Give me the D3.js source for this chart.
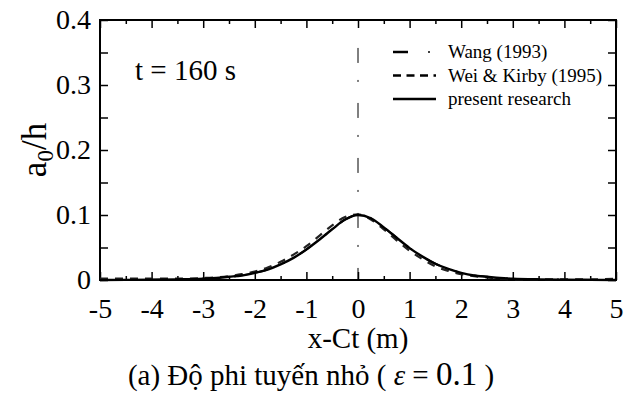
<!DOCTYPE html>
<html>
<head>
<meta charset="utf-8">
<script src="https://cdn.jsdelivr.net/npm/d3@7"></script>
<style>
  body { margin: 0; background: #fff; }
</style>
</head>
<body>
<div id="graph_field"></div>
<script>
// values
const xValues = [-5, -4.5, -4, -3.5, -3, -2.75, -2.5, -2.25, -2, -1.75, -1.5, -1.25, -1, -0.75, -0.5, -0.25, 0,
                 0.25, 0.5, 0.75, 1, 1.25, 1.5, 1.75, 2, 2.25, 2.5, 2.75, 3, 3.5, 4, 4.5, 5];
const presentValues = [0, 0.0002, 0.0005, 0.001, 0.002, 0.003, 0.005, 0.007, 0.011, 0.016, 0.024, 0.034, 0.047, 0.062, 0.078, 0.093, 0.100,
                       0.095, 0.081, 0.065, 0.049, 0.036, 0.025, 0.017, 0.011, 0.007, 0.005, 0.003, 0.002, 0.001, 0.0005, 0.0002, 0];
const weiKirbyValues = [0.002, 0.002, 0.002, 0.002, 0.003, 0.004, 0.006, 0.009, 0.013, 0.019, 0.028, 0.039, 0.052, 0.068, 0.084, 0.097, 0.101,
                        0.093, 0.078, 0.061, 0.045, 0.032, 0.021, 0.014, 0.009, 0.006, 0.004, 0.002, 0.001, 0.001, 0.001, 0.001, 0.002];
const wangValues = [0, 0.0002, 0.0005, 0.001, 0.002, 0.003, 0.005, 0.007, 0.011, 0.016, 0.024, 0.034, 0.047, 0.062, 0.078, 0.093, 0.100,
                    0.095, 0.081, 0.065, 0.049, 0.036, 0.025, 0.017, 0.011, 0.007, 0.005, 0.003, 0.002, 0.001, 0.0005, 0.0002, 0];
const crestLine = [0, 0.357]; // dash-dot line through the crest
const xTicks = [-5, -4, -3, -2, -1, 0, 1, 2, 3, 4, 5];
const yTicks = [0, 0.1, 0.2, 0.3, 0.4];
const legendLabels = ["Wang (1993)", "Wei & Kirby (1995)", "present research"];

const SERIF = '"Liberation Serif", "DejaVu Serif", serif';

const margin = {top: 20, right: 20, bottom: 116, left: 100};
const width = 636 - margin.left - margin.right;
const height = 396 - margin.top - margin.bottom;

const svg = d3.select("#graph_field")
    .append("svg")
    .attr("width", 636)
    .attr("height", 396);

const g = svg.append("g")
    .attr("transform", "translate(" + margin.left + "," + margin.top + ")");

const x = d3.scaleLinear().domain([-5, 5]).range([0, width]);
const y = d3.scaleLinear().domain([0, 0.4]).range([height, 0]);

const xMinor = d3.range(-4.5, 5, 1);
const yMinor = [0.05, 0.15, 0.25, 0.35];

// ticks on all four sides, pointing inward
function ticks(axis, scale, vals, len, labels) {
    return axis(scale).tickValues(vals).tickSizeInner(-len).tickSizeOuter(0)
        .tickFormat(labels ? (d => d) : "");
}

const bottom = g.append("g").attr("transform", "translate(0," + height + ")")
    .call(ticks(d3.axisBottom, x, xTicks, 8, true));
bottom.selectAll("text").attr("dy", "1.05em").attr("y", 9);
g.append("g").attr("transform", "translate(0," + height + ")")
    .call(ticks(d3.axisBottom, x, xMinor, 4, false));
g.append("g").call(ticks(d3.axisTop, x, xTicks, 8, false));
g.append("g").call(ticks(d3.axisTop, x, xMinor, 4, false));

const left = g.append("g").call(ticks(d3.axisLeft, y, yTicks, 8, true));
left.selectAll("text").attr("x", -9).attr("dy", "0.32em")
    .text(d => d === 0 ? "0" : d3.format(".1f")(d));
g.append("g").call(ticks(d3.axisLeft, y, yMinor, 8, false));
g.append("g").attr("transform", "translate(" + width + ",0)")
    .call(ticks(d3.axisRight, y, yTicks, 8, false));
g.append("g").attr("transform", "translate(" + width + ",0)")
    .call(ticks(d3.axisRight, y, yMinor, 8, false));

g.selectAll(".domain").remove();
g.selectAll(".tick line").style("stroke", "#000").style("stroke-width", "1.5px");
g.selectAll(".tick text").style("font-family", SERIF).style("font-size", "28px").style("fill", "#000");

g.append("rect")
    .attr("width", width).attr("height", height)
    .style("fill", "none").style("stroke", "#000").style("stroke-width", "2px");

// crest line
g.append("line")
    .attr("x1", x(0)).attr("x2", x(0))
    .attr("y1", y(crestLine[1])).attr("y2", y(crestLine[0]))
    .style("stroke", "#000").style("stroke-width", "1px")
    .style("stroke-dasharray", "15,17,2,21");

const line = vals => d3.line()
    .x((d, i) => x(xValues[i]))
    .y(d => y(d))
    .curve(d3.curveMonotoneX)(vals);

g.append("path").attr("d", line(wangValues))
    .style("fill", "none").style("stroke", "#000").style("stroke-width", "2px")
    .style("stroke-dasharray", "15,17,2,17");
g.append("path").attr("d", line(weiKirbyValues))
    .style("fill", "none").style("stroke", "#222").style("stroke-width", "2.2px")
    .style("stroke-dasharray", "8,7");
g.append("path").attr("d", line(presentValues))
    .style("fill", "none").style("stroke", "#000").style("stroke-width", "2.4px");

// legend
const legend = svg.append("g").attr("transform", "translate(393,52)");
legendLabels.forEach((lab, i) => {
    const row = legend.append("g").attr("transform", "translate(0," + (i * 23.5) + ")");
    if (i === 0) {
        row.append("line").attr("x1", 0).attr("x2", 15).style("stroke", "#000").style("stroke-width", "2.5px");
        row.append("line").attr("x1", 35).attr("x2", 37).style("stroke", "#000").style("stroke-width", "1.5px");
    } else if (i === 1) {
        row.append("line").attr("x1", 0).attr("x2", 43).style("stroke", "#000").style("stroke-width", "2.5px")
            .style("stroke-dasharray", "8,5.5");
    } else {
        row.append("line").attr("x1", 0).attr("x2", 43).style("stroke", "#000").style("stroke-width", "2.5px");
    }
    row.append("text").attr("x", 55).attr("dy", "0.32em")
        .style("font-family", SERIF).style("font-size", "19px").text(lab);
});

svg.append("text").attr("x", 135).attr("y", 80)
    .style("font-family", SERIF).style("font-size", "29px").text("t = 160 s");

// axis titles
svg.append("text")
    .attr("transform", "translate(46," + (margin.top + height / 2) + ") rotate(-90)")
    .attr("text-anchor", "middle")
    .style("font-family", SERIF).style("font-size", "35px")
    .html('a<tspan style="font-size:23px" dy="7">0</tspan><tspan dy="-7">/h</tspan>');

svg.append("text")
    .attr("x", margin.left + x(0)).attr("y", 348)
    .attr("text-anchor", "middle")
    .style("font-family", SERIF).style("font-size", "29px")
    .text("x-Ct (m)");

svg.append("text")
    .attr("x", 311).attr("y", 385)
    .attr("text-anchor", "middle")
    .style("font-family", SERIF).style("font-size", "29px")
    .html('(a) Độ phi tuyến nhỏ ( <tspan style="font-style:italic">ε</tspan> = <tspan style="font-size:33px">0.1</tspan> )');
</script>
</body>
</html>
